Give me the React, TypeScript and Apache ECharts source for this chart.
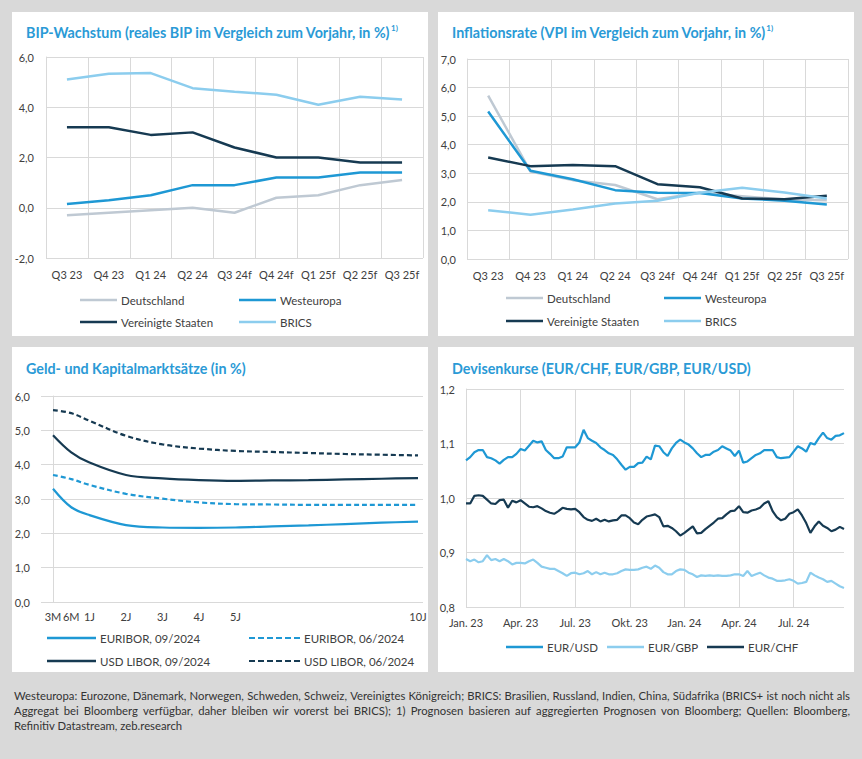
import React, { useEffect, useRef } from "react";
import * as echarts from "echarts";

// ---------- Panel 1: BIP-Wachstum ----------
const quarters = ["Q3 23", "Q4 23", "Q1 24", "Q2 24", "Q3 24f", "Q4 24f", "Q1 25f", "Q2 25f", "Q3 25f"];
const gdpDE = [-0.3, -0.2, -0.1, 0.0, -0.2, 0.4, 0.5, 0.9, 1.1];
const gdpWE = [0.15, 0.3, 0.5, 0.9, 0.9, 1.2, 1.2, 1.4, 1.4];
const gdpUS = [3.2, 3.2, 2.9, 3.0, 2.4, 2.0, 2.0, 1.8, 1.8];
const gdpBRICS = [5.1, 5.33, 5.36, 4.76, 4.62, 4.5, 4.1, 4.42, 4.31];

// ---------- Panel 2: Inflationsrate ----------
const cpiDE = [5.72, 3.06, 2.76, 2.59, 2.09, 2.32, 2.2, 2.08, 2.06];
const cpiWE = [5.16, 3.09, 2.79, 2.41, 2.32, 2.31, 2.12, 2.04, 1.91];
const cpiUS = [3.55, 3.25, 3.29, 3.25, 2.62, 2.51, 2.12, 2.09, 2.21];
const cpiBRICS = [1.71, 1.55, 1.73, 1.94, 2.04, 2.32, 2.49, 2.33, 2.12];

// ---------- Panel 3: Geld- und Kapitalmarktsätze ----------
const tenors = ["3M", "6M", "1J", "2J", "3J", "4J", "5J", "6J", "7J", "8J", "9J", "10J"];
const tenorAxisPos = [0, 0.5, 1, 2, 3, 4, 5, 6, 7, 8, 9, 10];
const tenorTickPos = [0, 0.5, 1, 2, 3, 4, 5, 10];
const tenorTickLabels = ["3M", "6M", "1J", "2J", "3J", "4J", "5J", "10J"];
const euribor2409 = [3.3, 2.76, 2.53, 2.24, 2.17, 2.16, 2.17, 2.2, 2.23, 2.27, 2.31, 2.34];
const euribor2406 = [3.7, 3.58, 3.41, 3.15, 3.01, 2.9, 2.85, 2.84, 2.83, 2.83, 2.83, 2.83];
const usdLibor2409 = [4.86, 4.36, 4.06, 3.7, 3.6, 3.55, 3.53, 3.54, 3.55, 3.57, 3.59, 3.61];
const usdLibor2406 = [5.59, 5.5, 5.28, 4.84, 4.59, 4.47, 4.4, 4.37, 4.34, 4.31, 4.29, 4.27];

// ---------- Panel 4: Devisenkurse (weekly, Jan 2023 - Sep 2024) ----------
const fxTickLabels = ["Jan. 23", "Apr. 23", "Jul. 23", "Okt. 23", "Jan. 24", "Apr. 24", "Jul. 24"];
const eurUsd = [
  1.069, 1.075, 1.084, 1.088, 1.088, 1.075, 1.073, 1.069, 1.063, 1.07, 1.075, 1.075, 1.081,
  1.09, 1.087, 1.096, 1.105, 1.102, 1.104, 1.088, 1.081, 1.073, 1.073, 1.076, 1.093, 1.093,
  1.093, 1.102, 1.125, 1.11, 1.105, 1.101, 1.093, 1.088, 1.082, 1.079, 1.071, 1.061, 1.052,
  1.057, 1.057, 1.064, 1.065, 1.076, 1.071, 1.096, 1.095, 1.084, 1.077, 1.091, 1.101, 1.107,
  1.102, 1.098, 1.091, 1.082, 1.075, 1.079, 1.079, 1.085, 1.088, 1.095, 1.091, 1.087, 1.077,
  1.087, 1.065, 1.067, 1.073, 1.079, 1.082, 1.088, 1.088, 1.088, 1.075, 1.073, 1.074, 1.075,
  1.085, 1.095, 1.091, 1.085, 1.101, 1.098, 1.11, 1.12, 1.11, 1.107, 1.114, 1.115, 1.119
];
const eurGbp = [
  0.888, 0.884, 0.887, 0.882, 0.884, 0.895, 0.886, 0.888, 0.884, 0.888, 0.884, 0.878, 0.881,
  0.881, 0.88, 0.884, 0.887, 0.881, 0.874, 0.872, 0.87, 0.87, 0.866, 0.862, 0.857, 0.862,
  0.863, 0.86, 0.862, 0.866, 0.86, 0.864, 0.86, 0.863, 0.86, 0.86, 0.862, 0.866, 0.869,
  0.868, 0.868, 0.869, 0.872, 0.874, 0.87, 0.876, 0.872, 0.864, 0.86, 0.86, 0.866, 0.869,
  0.868, 0.863, 0.86, 0.855, 0.858, 0.857, 0.858, 0.857, 0.858, 0.857, 0.857, 0.858, 0.86,
  0.86, 0.857, 0.866, 0.857, 0.86, 0.863, 0.858, 0.854, 0.852, 0.848, 0.848, 0.849, 0.851,
  0.848, 0.843, 0.844, 0.846, 0.863, 0.858, 0.854, 0.851, 0.846, 0.848, 0.843, 0.838, 0.835
];
const eurChf = [
  0.99, 0.99, 1.004, 1.005, 1.004, 0.997, 0.99, 0.989, 0.996, 0.997, 0.982, 0.995, 0.992,
  0.996, 0.99, 0.984, 0.983, 0.985, 0.981, 0.976, 0.973, 0.971, 0.976, 0.982, 0.98, 0.979,
  0.98, 0.974, 0.965, 0.96, 0.958, 0.962, 0.957, 0.96, 0.957, 0.959, 0.96, 0.968, 0.968,
  0.963, 0.955, 0.952, 0.96, 0.966, 0.968, 0.97, 0.965, 0.948, 0.949, 0.945, 0.939, 0.931,
  0.936, 0.942, 0.948, 0.935, 0.936, 0.943, 0.949, 0.955, 0.962, 0.963, 0.97, 0.976, 0.977,
  0.985, 0.974, 0.973, 0.977, 0.979, 0.982, 0.99, 0.994, 0.976, 0.965, 0.959, 0.962, 0.971,
  0.974, 0.979, 0.968, 0.954, 0.936, 0.948, 0.957, 0.949, 0.945, 0.939, 0.942, 0.947, 0.943
];
const fxWeekIdx = eurUsd.map((_, i) => String(i));

const footnoteLines = [
  "Westeuropa: Eurozone, Dänemark, Norwegen, Schweden, Schweiz, Vereinigtes Königreich; BRICS: Brasilien, Russland, Indien, China, Südafrika (BRICS+ ist noch nicht als",
  "Aggregat bei Bloomberg verfügbar, daher bleiben wir vorerst bei BRICS); 1) Prognosen basieren auf aggregierten Prognosen von Bloomberg; Quellen: Bloomberg,",
  "Refinitiv Datastream, zeb.research",
];

// ---------- Styles ----------
const C_GRAY = "#bfc9d3";
const C_MID = "#1e98d4";
const C_DARK = "#163a52";
const C_LIGHT = "#8ccdee";
const TITLE_C = "#2a9ad6";
const TXT = "#404040";
const GRID_C = "#d9d9d9";
const FONT = "Lato, 'Open Sans', sans-serif";
const FOOT_FONT = "11.3px Lato, sans-serif";
const DASH_ICON = "path://M0,0h6v2h-6z M9,0h6v2h-6z M18,0h6v2h-6z M27,0h6v2h-6z M36,0h6v2h-6z M45,0h6v2h-6z";

const fmt1 = (v: number) => v.toFixed(1).replace(".", ",");

// lay out a justified footnote line as word texts
function footnoteElements(): any[] {
  const left = 14;
  const right = 850;
  const canvas = document.createElement("canvas");
  const ctx = canvas.getContext("2d");
  const els: any[] = [];
  footnoteLines.forEach((line, li) => {
    const y = 695 + li * 15.4;
    const justify = li < footnoteLines.length - 1 && ctx;
    if (!justify) {
      els.push({ type: "text", x: left, y, style: { text: line, fill: "#333333", font: FOOT_FONT, textVerticalAlign: "middle" } });
      return;
    }
    ctx!.font = FOOT_FONT;
    const words = line.split(" ");
    const widths = words.map((w) => ctx!.measureText(w).width);
    const total = widths.reduce((a, b) => a + b, 0);
    const gap = (right - left - total) / (words.length - 1);
    let x = left;
    words.forEach((w, i) => {
      els.push({ type: "text", x, y, style: { text: w, fill: "#333333", font: FOOT_FONT, textVerticalAlign: "middle" } });
      x += widths[i] + gap;
    });
  });
  return els;
}

export default function App() {
  const ref = useRef<HTMLDivElement>(null);

  useEffect(() => {
    if (!ref.current) return;
    const chart = echarts.init(ref.current, undefined, { renderer: "svg" });

    const axisLabelStyle = { color: TXT, fontSize: 11, fontFamily: FONT };
    const splitLineStyle = { show: true, lineStyle: { color: GRID_C, width: 1 } };

    const titleStyle = {
      color: TITLE_C,
      fontSize: 14.3,
      fontWeight: "bold" as const,
      fontFamily: FONT,
      rich: {
        sup: { fontSize: 8, fontWeight: "bold" as const, color: TITLE_C, fontFamily: FONT, padding: [0, 0, 8, 0] },
      },
    };

    const lineSeries = (name: string, data: any[], color: string, xi: number, width = 2.5, dashed = false, smooth: any = false) => ({
      type: "line",
      name,
      data,
      xAxisIndex: xi,
      yAxisIndex: xi,
      symbol: "none",
      smooth,
      lineStyle: { color, width, type: dashed ? [5, 3] : "solid" },
      itemStyle: { color },
      z: 3,
    });

    const leg = (name: string, left: number, cy: number, w: number, dashed = false) => ({
      data: [name],
      left,
      top: cy - 7,
      padding: 0,
      icon: dashed ? DASH_ICON : "rect",
      itemWidth: w,
      itemHeight: dashed ? 2 : 2.5,
      itemGap: 4,
      selectedMode: false,
      itemStyle: { borderWidth: 0 },
      textStyle: { color: TXT, fontSize: 11.5, fontFamily: FONT, padding: [0, 0, 0, -1] },
    });

    const catX = (gi: number) => ({
      type: "category",
      gridIndex: gi,
      data: quarters,
      boundaryGap: true,
      axisLine: { show: false },
      axisTick: { show: false },
      axisLabel: { ...axisLabelStyle, margin: 11, interval: 0 },
      splitLine: splitLineStyle,
    });

    const tenorPts = (vals: number[]) => vals.map((v, i) => [tenorAxisPos[i], v]);

    const option: any = {
      animation: false,
      backgroundColor: "#d9d9d9",
      graphic: [
        { type: "rect", z: -10, shape: { x: 12, y: 12, width: 416, height: 324 }, style: { fill: "#ffffff" } },
        { type: "rect", z: -10, shape: { x: 438, y: 12, width: 416, height: 324 }, style: { fill: "#ffffff" } },
        { type: "rect", z: -10, shape: { x: 12, y: 347, width: 416, height: 325 }, style: { fill: "#ffffff" } },
        { type: "rect", z: -10, shape: { x: 438, y: 347, width: 416, height: 325 }, style: { fill: "#ffffff" } },
        ...footnoteElements(),
      ],
      title: [
        { text: "BIP-Wachstum (reales BIP im Vergleich zum Vorjahr, in %){sup|1)}", left: 26, top: 24, padding: 0, textStyle: titleStyle },
        { text: "Inflationsrate (VPI im Vergleich zum Vorjahr, in %){sup|1)}", left: 452, top: 24, padding: 0, textStyle: titleStyle },
        { text: "Geld- und Kapitalmarktsätze (in %)", left: 26, top: 361, padding: 0, textStyle: titleStyle },
        { text: "Devisenkurse (EUR/CHF, EUR/GBP, EUR/USD)", left: 452, top: 361, padding: 0, textStyle: titleStyle },
      ],
      legend: [
        leg("Deutschland", 80, 301, 37),
        leg("Westeuropa", 239, 301, 37),
        leg("Vereinigte Staaten", 80, 323, 37),
        leg("BRICS", 239, 323, 37),
        leg("Deutschland ", 506, 299, 37),
        leg("Westeuropa ", 664, 299, 37),
        leg("Vereinigte Staaten ", 506, 322, 37),
        leg("BRICS ", 664, 322, 37),
        leg("EURIBOR, 09/2024", 47, 639, 49),
        leg("EURIBOR, 06/2024", 249, 639, 51, true),
        leg("USD LIBOR, 09/2024", 47, 662, 49),
        leg("USD LIBOR, 06/2024", 249, 662, 51, true),
        leg("EUR/USD", 506, 648, 37),
        leg("EUR/GBP", 607, 648, 37),
        leg("EUR/CHF", 707, 648, 37),
      ],
      grid: [
        { left: 46, top: 57, width: 377, height: 201 },
        { left: 467, top: 59, width: 381, height: 200 },
        { left: 41, top: 396, width: 382, height: 206 },
        { left: 466, top: 389, width: 378, height: 218 },
      ],
      xAxis: [
        catX(0),
        catX(1),
        {
          type: "value",
          gridIndex: 2,
          min: -0.329,
          max: 10.137,
          axisLine: { show: false },
          axisTick: { show: false },
          splitLine: { show: false },
          axisLabel: {
            ...axisLabelStyle,
            margin: 9,
            customValues: tenorTickPos,
            formatter: (v: number) => tenorTickLabels[tenorTickPos.indexOf(v)] ?? "",
          },
        },
        {
          type: "category",
          gridIndex: 3,
          data: fxWeekIdx,
          boundaryGap: false,
          axisLine: { show: false },
          axisTick: { show: false },
          axisLabel: {
            ...axisLabelStyle,
            margin: 10,
            interval: (i: number) => i % 13 === 0 && i < 91,
            formatter: (_v: string, i: number) => fxTickLabels[i / 13] ?? "",
          },
          splitLine: { ...splitLineStyle, interval: (i: number) => i % 13 === 0 && i < 91 },
        },
      ],
      yAxis: [
        { type: "value", gridIndex: 0, min: -2, max: 6, interval: 2, axisLine: { show: true, lineStyle: { color: GRID_C } }, axisTick: { show: false }, axisLabel: { ...axisLabelStyle, margin: 12, formatter: fmt1 }, splitLine: splitLineStyle },
        { type: "value", gridIndex: 1, min: 0, max: 7, interval: 1, axisLine: { show: true, lineStyle: { color: GRID_C } }, axisTick: { show: false }, axisLabel: { ...axisLabelStyle, margin: 11, formatter: fmt1 }, splitLine: splitLineStyle },
        { type: "value", gridIndex: 2, min: 0, max: 6, interval: 1, axisLine: { show: true, lineStyle: { color: GRID_C } }, axisTick: { show: false }, axisLabel: { ...axisLabelStyle, margin: 11, formatter: fmt1 }, splitLine: splitLineStyle },
        { type: "value", gridIndex: 3, min: 0.8, max: 1.2, interval: 0.1, axisLine: { show: true, lineStyle: { color: GRID_C } }, axisTick: { show: false }, axisLabel: { ...axisLabelStyle, margin: 11, formatter: fmt1 }, splitLine: splitLineStyle },
      ],
      series: [
        lineSeries("Deutschland", gdpDE, C_GRAY, 0),
        lineSeries("Westeuropa", gdpWE, C_MID, 0),
        lineSeries("Vereinigte Staaten", gdpUS, C_DARK, 0),
        lineSeries("BRICS", gdpBRICS, C_LIGHT, 0),
        lineSeries("Deutschland ", cpiDE, C_GRAY, 1),
        lineSeries("Westeuropa ", cpiWE, C_MID, 1),
        lineSeries("Vereinigte Staaten ", cpiUS, C_DARK, 1),
        lineSeries("BRICS ", cpiBRICS, C_LIGHT, 1),
        lineSeries("EURIBOR, 09/2024", tenorPts(euribor2409), C_MID, 2, 2.2, false, 0.35),
        lineSeries("EURIBOR, 06/2024", tenorPts(euribor2406), C_MID, 2, 2.2, true, 0.35),
        lineSeries("USD LIBOR, 09/2024", tenorPts(usdLibor2409), C_DARK, 2, 2.2, false, 0.35),
        lineSeries("USD LIBOR, 06/2024", tenorPts(usdLibor2406), C_DARK, 2, 2.2, true, 0.35),
        lineSeries("EUR/USD", eurUsd, C_MID, 3, 2.2),
        lineSeries("EUR/GBP", eurGbp, C_LIGHT, 3, 2.2),
        lineSeries("EUR/CHF", eurChf, C_DARK, 3, 2.2),
      ],
    };

    chart.setOption(option);
    return () => chart.dispose();
  }, []);

  return <div ref={ref} style={{ position: "fixed", left: 0, top: 0, width: 862, height: 759 }} />;
}
